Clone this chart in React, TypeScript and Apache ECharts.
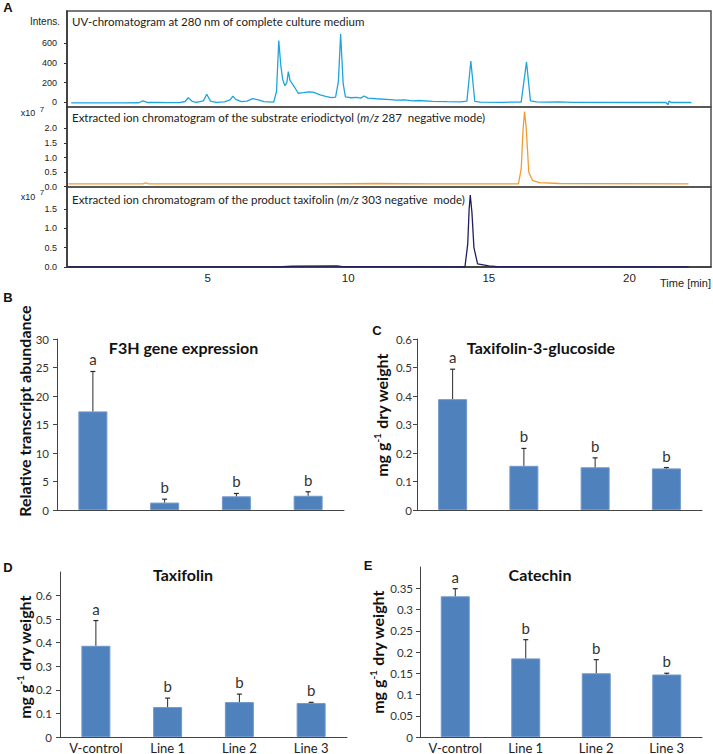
import React, { useEffect, useRef } from "react";
import * as echarts from "echarts";

// ---------- Panel A: chromatograms (time [min], intensity) ----------
const uvTrace: [number, number][] = [
  [0.15, -7], [1.0, -7], [2.0, -6], [2.55, -5], [2.7, 14], [2.85, -2], [3.2, -1], [3.6, -4], [4.0, -3],
  [4.2, 8], [4.31, 46], [4.45, 10], [4.6, 0], [4.85, 14], [4.97, 82], [5.1, 12], [5.3, -2], [5.6, 4],
  [5.8, 24], [5.9, 62], [6.0, 30], [6.2, 6], [6.4, 12], [6.6, 38], [6.8, 24], [7.0, 6], [7.35, 2],
  [7.45, 110], [7.53, 628], [7.6, 380], [7.67, 230], [7.75, 168], [7.82, 205], [7.87, 312], [7.93, 222],
  [8.0, 192], [8.1, 150], [8.22, 92], [8.4, 98], [8.6, 106], [8.75, 104], [9.0, 75], [9.2, 60], [9.4, 48],
  [9.55, 52], [9.65, 210], [9.73, 695], [9.82, 190], [9.9, 55], [10.1, 46], [10.3, 50], [10.45, 42],
  [10.56, 64], [10.7, 42], [11.0, 36], [11.5, 28], [11.7, 22], [12.0, 25], [12.3, 14], [12.5, 18],
  [13.0, 10], [13.5, 6], [14.0, 4], [14.22, 12], [14.36, 420], [14.5, 10], [14.7, 1], [15.5, 0],
  [16.15, 2], [16.34, 410], [16.48, 14], [16.7, 4], [17.0, 1], [17.5, 4], [18.0, -1], [20.0, -2],
  [21.3, -2], [21.37, -26], [21.41, 14], [21.48, -2], [22.2, -2],
];
const eriodictyolTrace: [number, number][] = [
  [0.05, 0.1], [2.7, 0.1], [2.8, 0.13], [2.9, 0.1], [9.0, 0.1], [11.0, 0.11], [13.0, 0.1], [16.05, 0.1],
  [16.15, 0.6], [16.22, 2.0], [16.27, 2.57], [16.33, 2.0], [16.42, 0.5], [16.55, 0.22], [16.8, 0.14],
  [17.5, 0.11], [22.1, 0.1],
];
const taxifolinTrace: [number, number][] = [
  [0.05, 0.0], [7.5, 0.0], [8.0, 0.02], [9.6, 0.03], [9.8, 0.01], [10.5, 0.01], [14.15, 0.0], [14.25, 0.6],
  [14.3, 1.5], [14.34, 1.86], [14.4, 1.4], [14.47, 0.5], [14.6, 0.08], [15.0, 0.03], [15.3, 0.01], [22.1, 0.0],
];
const uvTicks = [0, 200, 400, 600];
const eriodictyolTicks = [0, 0.5, 1.0, 1.5, 2.0];
const taxifolinTicks = [0, 0.5, 1.0, 1.5];
const timeTicks = [5, 10, 15, 20];

// ---------- Panels B–E: bar charts ----------
const categories = ["V-control", "Line 1", "Line 2", "Line 3"];

const f3hMean = [17.3, 1.3, 2.4, 2.5];
const f3hErrTop = [24.3, 1.9, 2.9, 3.2];
const f3hLetters = ["a", "b", "b", "b"];
const f3hTicks = [0, 5, 10, 15, 20, 25, 30];

const t3gMean = [0.389, 0.155, 0.15, 0.146];
const t3gErrTop = [0.494, 0.216, 0.183, 0.149];
const t3gLetters = ["a", "b", "b", "b"];
const t3gTicks = [0, 0.1, 0.2, 0.3, 0.4, 0.5, 0.6];

const taxMean = [0.387, 0.127, 0.148, 0.144];
const taxErrTop = [0.494, 0.165, 0.182, 0.147];
const taxLetters = ["a", "b", "b", "b"];
const taxTicks = [0, 0.1, 0.2, 0.3, 0.4, 0.5, 0.6];

const catMean = [0.331, 0.185, 0.15, 0.147];
const catErrTop = [0.349, 0.229, 0.182, 0.15];
const catLetters = ["a", "b", "b", "b"];
const catTicks = [0, 0.05, 0.1, 0.15, 0.2, 0.25, 0.3, 0.35];

const BAR_FONT = "Lato";
const A_FONT = "Liberation Sans";

function fmt(v: number) {
  return String(Math.round(v * 100) / 100);
}

function buildOption() {
  const grid: any[] = [
    { left: 67, top: 11, width: 644, height: 96 },
    { left: 67, top: 107, width: 644, height: 80 },
    { left: 67, top: 187, width: 644, height: 80 },
    { left: 57, top: 339, width: 287, height: 171 },
    { left: 417, top: 339, width: 285, height: 171 },
    { left: 60, top: 572, width: 287, height: 165 },
    { left: 420, top: 567, width: 282, height: 170 },
  ].map((g, i) =>
    i < 3
      ? { ...g, show: true, borderColor: "#4d4d4d", borderWidth: 1.5, backgroundColor: "transparent" }
      : { ...g, show: false }
  );

  const xAxis: any[] = [];
  const yAxis: any[] = [];
  const series: any[] = [];

  // Chromatogram axes
  const aRanges = [
    { min: -48, max: 928, ticks: uvTicks, f: (v: number) => String(v) },
    { min: -0.01, max: 2.73, ticks: eriodictyolTicks, f: (v: number) => v.toFixed(1) },
    { min: 0, max: 2.07, ticks: taxifolinTicks, f: (v: number) => v.toFixed(1) },
  ];
  aRanges.forEach((r, i) => {
    xAxis.push({
      type: "value",
      gridIndex: i,
      min: 0,
      max: 22.9,
      axisLine: { show: i === 2, lineStyle: { color: "#333", width: 1.5 } },
      axisTick: { show: false },
      splitLine: { show: false },
      axisLabel: {
        show: i === 2,
        customValues: timeTicks,
        margin: 5,
        fontSize: 11.5,
        fontFamily: A_FONT,
        color: "#222",
      },
    });
    yAxis.push({
      type: "value",
      gridIndex: i,
      min: r.min,
      max: r.max,
      axisLine: { show: true, lineStyle: { color: "#333", width: 1.5 } },
      axisTick: { show: true, length: 3, customValues: r.ticks, lineStyle: { color: "#333" } },
      splitLine: { show: false },
      axisLabel: {
        customValues: r.ticks,
        formatter: r.f,
        margin: 10,
        fontSize: 9,
        fontFamily: A_FONT,
        color: "#222",
      },
    });
  });
  const traces: [number, number][][] = [uvTrace, eriodictyolTrace, taxifolinTrace];
  const traceColors = ["#1fa5de", "#f39b32", "#1f1f5e"];
  traces.forEach((t, i) => {
    series.push({
      type: "line",
      xAxisIndex: i,
      yAxisIndex: i,
      data: t,
      showSymbol: false,
      symbol: "none",
      lineStyle: { color: traceColors[i], width: 1.3 },
      z: 2,
    });
  });

  // Bar panels
  const panels = [
    { mean: f3hMean, err: f3hErrTop, letters: f3hLetters, ticks: f3hTicks, max: 30, cats: false, margin: 8 },
    { mean: t3gMean, err: t3gErrTop, letters: t3gLetters, ticks: t3gTicks, max: 0.6, cats: false, margin: 5 },
    { mean: taxMean, err: taxErrTop, letters: taxLetters, ticks: taxTicks, max: 0.7, cats: true, margin: 8 },
    { mean: catMean, err: catErrTop, letters: catLetters, ticks: catTicks, max: 0.4, cats: true, margin: 7 },
  ];
  panels.forEach((p, k) => {
    const gi = k + 3;
    xAxis.push({
      type: "category",
      gridIndex: gi,
      data: categories,
      axisLine: { show: true, lineStyle: { color: "#444", width: 1 } },
      axisTick: { show: false },
      axisLabel: { show: p.cats, interval: 0, margin: 4, fontSize: 13, fontFamily: BAR_FONT, color: "#222" },
    });
    yAxis.push({
      type: "value",
      gridIndex: gi,
      min: 0,
      max: p.max,
      axisLine: { show: true, lineStyle: { color: "#444", width: 1 } },
      axisTick: { show: true, length: 4, customValues: p.ticks, lineStyle: { color: "#444" } },
      splitLine: { show: false },
      axisLabel: {
        customValues: p.ticks,
        formatter: fmt,
        margin: p.margin,
        fontSize: 11.5,
        fontFamily: BAR_FONT,
        color: "#333",
      },
    });
    series.push({
      type: "bar",
      xAxisIndex: gi,
      yAxisIndex: gi,
      data: p.mean,
      barWidth: 29,
      itemStyle: { color: "#4f81bd", borderColor: "#7198cc", borderWidth: 1 },
      z: 2,
    });
    const letters = p.letters;
    series.push({
      type: "custom",
      xAxisIndex: gi,
      yAxisIndex: gi,
      data: p.mean.map((m, i) => [i, m, p.err[i]]),
      encode: { x: 0, y: [1, 2] },
      z: 3,
      renderItem: (params: any, api: any) => {
        const i = api.value(0);
        const base = api.coord([i, api.value(1)]);
        const top = api.coord([i, api.value(2)]);
        return {
          type: "group",
          children: [
            { type: "line", shape: { x1: base[0], y1: base[1], x2: top[0], y2: top[1] }, style: { stroke: "#2a2a2a", lineWidth: 1 } },
            { type: "line", shape: { x1: top[0] - 2.5, y1: top[1], x2: top[0] + 2.5, y2: top[1] }, style: { stroke: "#2a2a2a", lineWidth: 1.2 } },
            {
              type: "text",
              x: top[0],
              y: top[1] - 12,
              style: {
                text: letters[params.dataIndex],
                fill: "#333",
                font: `15px ${BAR_FONT}`,
                align: "center",
                verticalAlign: "middle",
                textAlign: "center",
                textVerticalAlign: "middle",
              },
            },
          ],
        };
      },
    });
  });

  const txt = (text: string, x: number, y: number, font: string, align = "left", fill = "#222", rich?: any) => ({
    type: "text",
    x,
    y,
    silent: true,
    style: {
      text,
      font,
      fill,
      align,
      verticalAlign: "middle",
      textAlign: align,
      textVerticalAlign: "middle",
      rich,
    },
  });
  const italicRich = {
    i: { fontStyle: "italic", fontFamily: BAR_FONT, fontSize: 11.5, fill: "#222", color: "#222" },
  };
  const supRich = {
    sup: { fontFamily: BAR_FONT, fontWeight: "bold", fontSize: 10, lineHeight: 10, verticalAlign: "top", fill: "#111", color: "#111" },
    m: { fontFamily: BAR_FONT, fontWeight: "bold", fontSize: 16, lineHeight: 19, fill: "#111", color: "#111" },
  };
  const yName = (text: string, x: number, y: number) => ({
    type: "text",
    x,
    y,
    rotation: Math.PI / 2,
    silent: true,
    style: {
      text,
      font: `bold 16px ${BAR_FONT}`,
      fill: "#111",
      align: "center",
      verticalAlign: "middle",
      textAlign: "center",
      textVerticalAlign: "middle",
      rich: supRich,
    },
  });
  const massName = "{m|mg g}{sup|-1}{m| dry weight}";

  const graphic: any[] = [
    txt("A", 8, 7.5, `bold 13px ${A_FONT}`, "center", "#111"),
    txt("Intens.", 45, 21.7, `10px ${A_FONT}`, "center"),
    txt("UV-chromatogram at 280 nm of complete culture medium", 72, 21.7, `11.5px ${BAR_FONT}`),
    txt("Extracted ion chromatogram of the substrate eriodictyol ({i|m/z} 287  negative mode)", 72, 117.5, `11.5px ${BAR_FONT}`, "left", "#222", italicRich),
    txt("Extracted ion chromatogram of the product taxifolin ({i|m/z} 303 negative  mode)", 72, 199, `11.5px ${BAR_FONT}`, "left", "#222", italicRich),
    txt("x10", 28, 113, `9px ${A_FONT}`, "center"),
    txt("7", 42, 109, `8px ${A_FONT}`, "center"),
    txt("x10", 28, 196.5, `9px ${A_FONT}`, "center"),
    txt("7", 42, 192.5, `8px ${A_FONT}`, "center"),
    txt("Time [min]", 711, 283, `11px ${A_FONT}`, "right"),
    txt("B", 8, 297, `bold 13px ${A_FONT}`, "center", "#111"),
    txt("C", 377, 330, `bold 13px ${A_FONT}`, "center", "#111"),
    txt("D", 8, 567, `bold 13px ${A_FONT}`, "center", "#111"),
    txt("E", 368, 565, `bold 13px ${A_FONT}`, "center", "#111"),
    txt("F3H gene expression", 183.5, 347, `bold 16px ${BAR_FONT}`, "center", "#111"),
    txt("Taxifolin-3-glucoside", 541, 347, `bold 16px ${BAR_FONT}`, "center", "#111"),
    txt("Taxifolin", 183, 574, `bold 16px ${BAR_FONT}`, "center", "#111"),
    txt("Catechin", 540, 574, `bold 16px ${BAR_FONT}`, "center", "#111"),
    yName("{m|Relative transcript abundance}", 24, 411),
    yName(massName, 381, 415),
    yName(massName, 24, 657),
    yName(massName, 377, 652),
  ];

  return {
    animation: false,
    backgroundColor: "#ffffff",
    grid,
    xAxis,
    yAxis,
    series,
    graphic,
  };
}

export default function App() {
  const ref = useRef<HTMLDivElement>(null);
  useEffect(() => {
    if (!ref.current) return;
    const chart = echarts.init(ref.current, undefined, { renderer: "svg" });
    chart.setOption(buildOption() as any);
    return () => chart.dispose();
  }, []);
  return (
    <div
      ref={ref}
      style={{ position: "absolute", left: 0, top: 0, width: 713, height: 754, background: "#fff" }}
    />
  );
}
